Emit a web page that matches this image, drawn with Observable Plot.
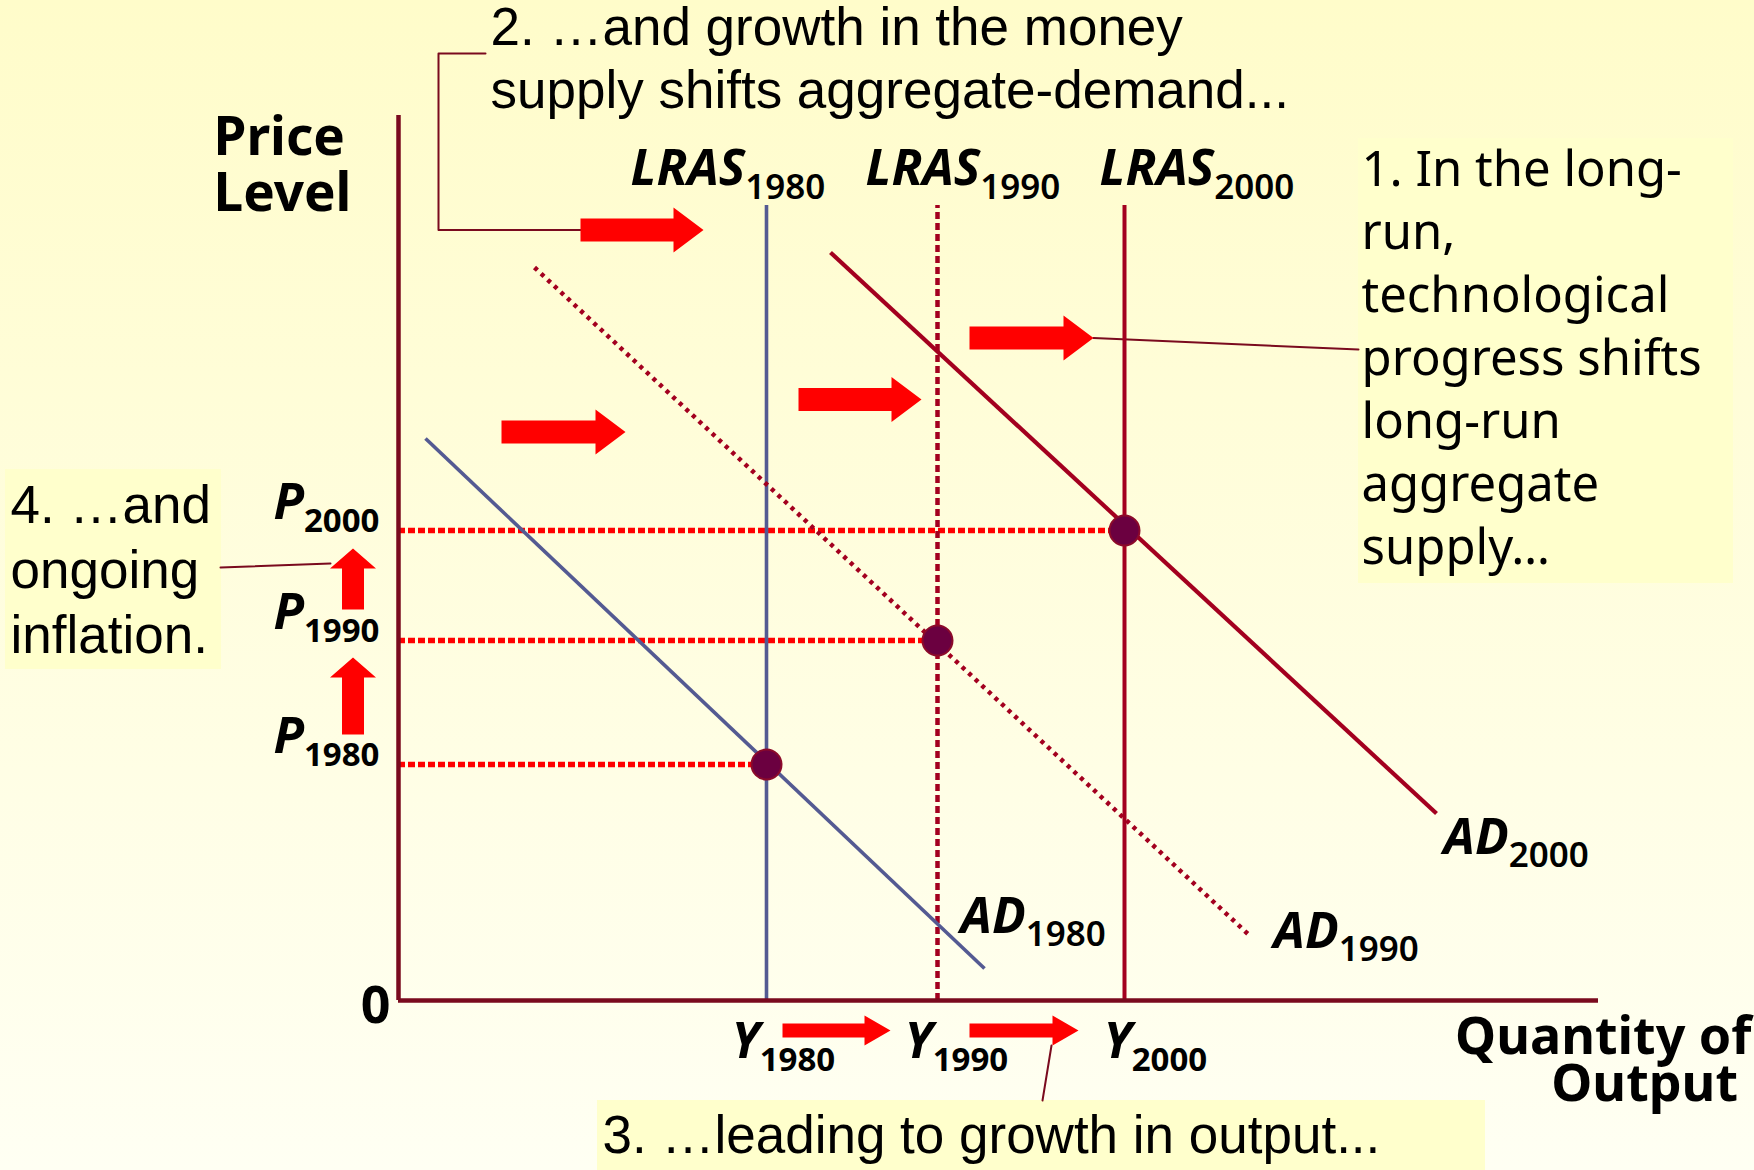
<!DOCTYPE html>
<html>
<head>
<meta charset="utf-8">
<script src="https://cdn.jsdelivr.net/npm/d3@7"></script>
<script src="https://cdn.jsdelivr.net/npm/@observablehq/plot@0.6"></script>
<style>
  html, body { margin: 0; padding: 0; }
  body { width: 1754px; height: 1170px; overflow: hidden; background: linear-gradient(#fffcca, #fffff3); }
  svg { display: block; }
</style>
</head>
<body>
<div id="chart"></div>
<script>
// ---------- chart values (conceptual units) ----------
const years = ["1980", "1990", "2000"];
const outputY = [36.8, 53.9, 72.6];      // LRAS positions / Y levels
const priceP = [23.6, 36.0, 47.0];       // equilibrium price levels
const lrasTop = 79.5;
const adStartQ = [2.7, 13.6, 43.2];
const adStartP = [56.2, 73.3, 74.8];
const adEndQ = [58.6, 85.0, 103.8];
const adEndP = [3.2, 6.6, 18.7];

// ---------- annotation texts ----------
const note1 = ["1. In the long-", "run,", "technological", "progress shifts", "long-run", "aggregate", "supply…"];
const note2 = ["2. …and growth in the money", "supply shifts aggregate-demand..."];
const note3 = ["3. …leading to growth in output..."];
const note4 = ["4. …and", "ongoing", "inflation."];
const yTitle = "Price\nLevel";
const xTitle = "Quantity of\nOutput\u00a0";

// ---------- layout (positions in the same units) ----------
const lrasLabelQ = [23.2, 46.7, 70.1], lrasLabelP = 81.6;
const adLabelQ = [56.2, 87.5, 104.5], adLabelP = [6.8, 5.3, 14.7];
const yLabelQ = [33.3, 50.6, 70.5], yLabelP = -5.7;
const pLabelQ = -1.9, pLabelLift = 1.2;
const note1Pos = {x: 96.3, y: 81.5, step: 6.3};
const note2Pos = {x: 9.2, y: 95.6, step: 6.3};
const note3Pos = {x: 20.4, y: -15.2, step: 6.3};
const note4Pos = {x: -38.8, y: 47.8, step: 6.5};
const boxes = [
  {x1: 96.0, x2: 133.5, y1: 41.7, y2: 86.2},
  {x1: -39.3, x2: -17.7, y1: 33.1, y2: 53.1},
  {x1: 19.9, x2: 108.7, y1: -17.5, y2: -10.0}
];
const leaders = [
  [[8.7, 94.7], [4.0, 94.7], [4.0, 77.05], [18.2, 77.05]],
  [[69.5, 66.25], [96.0, 65.1]],
  [[-17.8, 43.3], [-6.8, 43.7]],
  [[65.3, -4.5], [64.4, -10.0]]
];
const bigArrows = [ // horizontal: start, tip, level
  [18.2, 30.5, 77.05], [10.3, 22.7, 56.85], [40.0, 52.3, 60.1], [57.1, 69.5, 66.25]
];
const outArrows = [[38.4, 49.2, -3.0], [57.1, 68.0, -3.0]];
const upArrows = [[-4.55, 39.1, 45.2], [-4.55, 26.6, 34.3]]; // x, start, tip

// ---------- helpers ----------
function hArrow(id, [x0, x1, y], bh, hh, hl) {
  const b = x1 - hl;
  return [[x0, y + bh], [b, y + bh], [b, y + hh], [x1, y], [b, y - hh], [b, y - bh], [x0, y - bh], [x0, y + bh]]
    .map(([x, yy]) => ({id, x, y: yy}));
}
function vArrow(id, [x, y0, y1], bw, hw, hl) {
  const b = y1 - hl;
  return [[x - bw, y0], [x - bw, b], [x - hw, b], [x, y1], [x + hw, b], [x + bw, b], [x + bw, y0], [x - bw, y0]]
    .map(([xx, y]) => ({id, x: xx, y}));
}
const arrowPts = [
  ...bigArrows.flatMap((a, i) => hArrow("b" + i, a, 1.15, 2.25, 3.0)),
  ...outArrows.flatMap((a, i) => hArrow("o" + i, a, 0.7, 1.5, 2.6)),
  ...upArrows.flatMap((a, i) => vArrow("u" + i, a, 1.1, 2.3, 2.0))
];
const leaderPts = leaders.flatMap((l, i) => l.map(([x, y]) => ({id: i, x, y})));
const noteRows = (lines, pos) => lines.map((t, i) => ({t, x: pos.x, y: pos.y - i * pos.step}));

const eq = years.map((yr, i) => ({yr, q: outputY[i], p: priceP[i]}));
const ad = years.map((yr, i) => ({yr, x1: adStartQ[i], y1: adStartP[i], x2: adEndQ[i], y2: adEndP[i]}));

const blue = "#545a92", crimson = "#a3001f", axisCol = "#7a0a1e", red = "#ff0000";
const tahoma = "'Noto Sans', Tahoma, sans-serif";
const arial = "'Liberation Sans', Arial, sans-serif";

const lineStyles = [
  {stroke: blue, strokeWidth: 3.6},
  {stroke: crimson, strokeWidth: 4.5, strokeDasharray: "4,5"},
  {stroke: crimson, strokeWidth: 4.2}
];
const lrasStyles = [
  {stroke: blue, strokeWidth: 3.6},
  {stroke: crimson, strokeWidth: 4.5, strokeDasharray: "7,4"},
  {stroke: crimson, strokeWidth: 4}
];

const labelFont = {fontFamily: tahoma, fontSize: 50, fontWeight: "bold", fontStyle: "italic", fill: "#000", lineAnchor: "bottom"};

const svg = Plot.plot({
  width: 1754,
  height: 1170,
  marginLeft: 398,
  marginRight: 156,
  marginTop: 115,
  marginBottom: 170,
  x: {domain: [0, 120], axis: null},
  y: {domain: [0, 88.5], axis: null},
  style: {background: "transparent", overflow: "visible"},
  marks: [
    Plot.rect(boxes, {x1: "x1", x2: "x2", y1: "y1", y2: "y2", fill: "#ffffcc"}),
    Plot.line(leaderPts, {x: "x", y: "y", z: "id", stroke: axisCol, strokeWidth: 2}),
    // price level guide lines
    Plot.ruleY(eq, {y: "p", x1: 0, x2: "q", stroke: red, strokeWidth: 5.5, strokeDasharray: "7,3"}),
    // LRAS verticals
    ...eq.map((d, i) => Plot.ruleX([d], {x: "q", y1: 0, y2: lrasTop, ...lrasStyles[i]})),
    // AD curves
    ...ad.map((d, i) => Plot.link([d], {x1: "x1", y1: "y1", x2: "x2", y2: "y2", ...lineStyles[i]})),
    // axes
    Plot.ruleY([0], {x1: 0, x2: 120, stroke: axisCol, strokeWidth: 4.5}),
    Plot.ruleX([0], {y1: 0, y2: 88.5, stroke: axisCol, strokeWidth: 4.5}),
    // block arrows
    Plot.line(arrowPts, {x: "x", y: "y", z: "id", fill: red, stroke: "none", curve: "linear"}),
    // equilibria
    Plot.dot(eq, {x: "q", y: "p", r: 15, fill: "#6b0040", stroke: "#8c0a2a", strokeWidth: 2}),
    // curve labels
    Plot.text(years.map((yr, i) => ({t: "LRAS_" + yr, x: lrasLabelQ[i], y: lrasLabelP})), {x: "x", y: "y", text: "t", textAnchor: "start", ...labelFont}),
    Plot.text(years.map((yr, i) => ({t: "AD_" + yr, x: adLabelQ[i], y: adLabelP[i]})), {x: "x", y: "y", text: "t", textAnchor: "start", ...labelFont}),
    Plot.text(years.map((yr, i) => ({t: "Y_" + yr, x: yLabelQ[i], y: yLabelP})), {x: "x", y: "y", text: "t", textAnchor: "start", ...labelFont}),
    Plot.text(years.map((yr, i) => ({t: "P_" + yr, x: pLabelQ, y: priceP[i] + pLabelLift})), {x: "x", y: "y", text: "t", textAnchor: "end", ...labelFont}),
    // axis titles
    Plot.text([{t: yTitle, x: -18.5, y: 79.0}], {x: "x", y: "y", text: "t", textAnchor: "start", fontFamily: tahoma, fontSize: 53, lineHeight: 1.04, fontWeight: "bold", fill: "#000", lineAnchor: "bottom"}),
    Plot.text([{t: xTitle, x: 135.3, y: -10.0}], {x: "x", y: "y", text: "t", textAnchor: "end", fontFamily: tahoma, fontSize: 52, lineHeight: 0.9, fontWeight: "bold", fill: "#000", lineAnchor: "bottom"}),
    Plot.text([{t: "0", x: -0.8, y: -2.2}], {x: "x", y: "y", text: "t", textAnchor: "end", fontFamily: tahoma, fontSize: 52, fontWeight: "bold", fill: "#000", lineAnchor: "bottom"}),
    // annotations
    Plot.text(noteRows(note1, note1Pos), {x: "x", y: "y", text: "t", textAnchor: "start", fontFamily: tahoma, fontSize: 49, fill: "#000", lineAnchor: "bottom"}),
    Plot.text([...noteRows(note2, note2Pos), ...noteRows(note3, note3Pos), ...noteRows(note4, note4Pos)], {x: "x", y: "y", text: "t", textAnchor: "start", fontFamily: arial, fontSize: 53, fill: "#000", lineAnchor: "bottom"})
  ]
});

// subscripts: "MAIN_SUB" -> main + lowered subscript
d3.select(svg).selectAll("text").each(function () {
  const s = this.textContent;
  if (!s.includes("_")) return;
  const [main, sub] = s.split("_");
  const el = d3.select(this);
  el.text(null);
  el.append("tspan").text(main);
  const heavy = main === "P" || main === "Y";
  el.append("tspan")
    .attr("dy", main === "LRAS" ? 14 : 13)
    .style("font-style", "normal")
    .style("font-weight", heavy ? "bold" : "600")
    .style("font-size", heavy ? "33px" : "35px")
    .text(sub);
});

document.getElementById("chart").appendChild(svg);
</script>
</body>
</html>
